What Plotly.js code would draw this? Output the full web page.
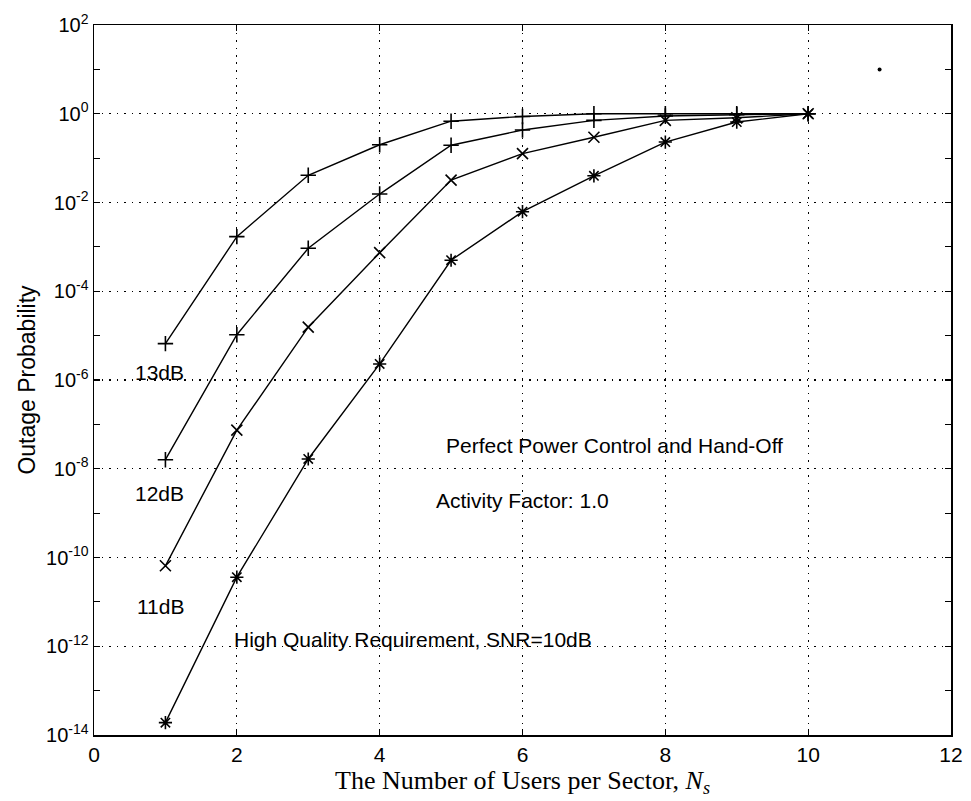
<!DOCTYPE html>
<html>
<head>
<meta charset="utf-8">
<script src="https://cdn.plot.ly/plotly-3.0.1.min.js"></script>
<style>body{margin:0;background:#fff}#chart{width:971px;height:801px}</style>
</head>
<body>
<div id="chart"></div>
<script>
// Data (outage probability vs users per sector)
const users = [1, 2, 3, 4, 5, 6, 7, 8, 9, 10];
const p13dB = [6.6e-6, 1.7e-3, 4.1e-2, 2.0e-1, 6.8e-1, 8.7e-1, 1.0, 1.0, 1.0, 1.0];
const p12dB = [1.6e-8, 1.05e-5, 9.3e-4, 1.55e-2, 1.95e-1, 4.3e-1, 7.1e-1, 8.9e-1, 9.5e-1, 1.0];
const p11dB = [6.5e-11, 7.4e-8, 1.55e-5, 7.4e-4, 3.2e-2, 1.26e-1, 2.95e-1, 7.1e-1, 8.1e-1, 1.0];
const p10dB = [1.9e-14, 3.6e-11, 1.66e-8, 2.3e-6, 5.0e-4, 6.2e-3, 4.0e-2, 2.3e-1, 6.5e-1, 1.0];
const strayX = [11];
const strayY = [10];

const yTickVals = [1e2, 1e0, 1e-2, 1e-4, 1e-6, 1e-8, 1e-10, 1e-12, 1e-14];
const yTickText = ['10<sup>2</sup>', '10<sup>0</sup>', '10<sup>-2</sup>', '10<sup>-4</sup>', '10<sup>-6</sup>', '10<sup>-8</sup>', '10<sup>-10</sup>', '10<sup>-12</sup>', '10<sup>-14</sup>'];
const yMinorVals = [1e1, 1e-1, 1e-3, 1e-5, 1e-7, 1e-9, 1e-11, 1e-13];
const xTickVals = [0, 2, 4, 6, 8, 10, 12];

const curveLabels = [
  {text: '13dB', x: 0.55, y: 1.45e-6},
  {text: '12dB', x: 0.55, y: 2.7e-9},
  {text: '11dB', x: 0.58, y: 7.8e-12}
];
const notes = [
  {text: 'Perfect Power Control and Hand-Off', x: 4.9, y: 3.3e-8},
  {text: 'Activity Factor: 1.0', x: 4.76, y: 1.95e-9},
  {text: 'High Quality Requirement, SNR=10dB', x: 1.93, y: 1.4e-12}
];

function series(y, symbol) {
  return {
    x: users, y: y, type: 'scatter', mode: 'lines+markers',
    line: {color: '#000', width: 1.4},
    marker: {symbol: symbol, size: 11, color: '#000', line: {color: '#000', width: 1.6}},
    hoverinfo: 'x+y', showlegend: false
  };
}

const traces = [
  series(p13dB, 'cross-thin-open'),
  series(p12dB, 'cross-thin-open'),
  series(p11dB, 'x-thin-open'),
  series(p10dB, 'asterisk-open'),
  {x: strayX, y: strayY, type: 'scatter', mode: 'markers',
   marker: {symbol: 'circle', size: 4, color: '#000'}, showlegend: false}
];

const font = 'Liberation Sans, Arial, Helvetica, sans-serif';
const annotations = [];
curveLabels.concat(notes).forEach(a => {
  annotations.push({
    text: a.text, x: a.x, y: Math.log10(a.y), xref: 'x', yref: 'y',
    xanchor: 'left', yanchor: 'middle', showarrow: false,
    font: {family: font, size: 21, color: '#000'}
  });
});

const layout = {
  width: 971, height: 801,
  margin: {l: 94, r: 20, t: 25, b: 66},
  paper_bgcolor: '#fff', plot_bgcolor: '#fff',
  showlegend: false,
  xaxis: {
    range: [0, 12], tickvals: xTickVals, ticktext: xTickVals.map(String),
    ticks: 'inside', ticklen: 6, tickwidth: 1.2, tickcolor: '#000',
    showline: true, linecolor: '#000', linewidth: 1.5, mirror: 'ticks',
    showgrid: true, gridcolor: '#000', griddash: '1.5px,6px', gridwidth: 1.2,
    zeroline: false,
    tickfont: {family: font, size: 21, color: '#000'},
    title: {text: 'The Number of Users per Sector, <i>N</i><sub><i>s</i></sub>', standoff: 0,
            font: {family: 'Liberation Serif, Times New Roman, serif', size: 26, color: '#000'}}
  },
  yaxis: {
    type: 'log', range: [-14, 2], tickvals: yTickVals, ticktext: yTickText,
    ticks: 'inside', ticklen: 6, tickwidth: 1.2, tickcolor: '#000',
    showline: true, linecolor: '#000', linewidth: 1.5, mirror: 'ticks',
    showgrid: true, gridcolor: '#000', griddash: '1.5px,6px', gridwidth: 1.2,
    zeroline: false,
    minor: {tickvals: yMinorVals, ticks: 'inside', ticklen: 6, tickcolor: '#000', showgrid: false},
    tickfont: {family: font, size: 20, color: '#000'},
    title: {text: 'Outage Probability', standoff: 4,
            font: {family: font, size: 23, color: '#000'}}
  },
  annotations: annotations
};

Plotly.newPlot('chart', traces, layout, {displayModeBar: false, staticPlot: true});
</script>
</body>
</html>
